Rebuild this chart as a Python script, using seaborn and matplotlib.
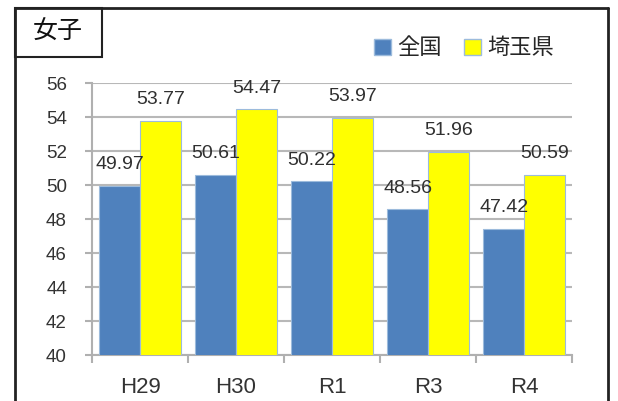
import pandas as pd
import numpy as np
import matplotlib.pyplot as plt
import matplotlib.patches as mpatches
from matplotlib.lines import Line2D
from matplotlib.ticker import FixedLocator
import seaborn as sns

sns.set_theme(style="white")
plt.rcParams['font.family'] = ['Liberation Sans', 'Noto Sans CJK JP']

# data
years = ['H29', 'H30', 'R1', 'R3', 'R4']
zenkoku = [49.97, 50.61, 50.22, 48.56, 47.42]
saitama = [53.77, 54.47, 53.97, 51.96, 50.59]
series = ['全国', '埼玉県']
colors = ['#4f81bd', '#ffff00']

df = pd.DataFrame({
    'year': years * 2,
    'value': zenkoku + saitama,
    'group': [series[0]] * len(years) + [series[1]] * len(years),
})

fig = plt.figure(figsize=(6.18, 4.01), dpi=100)
ax = fig.add_axes([92 / 618, 46 / 401, 480 / 618, 272 / 401])

sns.barplot(data=df, x='year', y='value', hue='group', palette=colors,
            saturation=1, width=0.85, edgecolor='#9cbbdc', linewidth=0.8,
            gap=0, legend=False, ax=ax, zorder=3)

ax.set_ylim(40, 56)
ax.set_xlim(-0.5, len(years) - 0.5)
ax.set_yticks(np.arange(40, 57, 2))
ax.set_xlabel('')
ax.set_ylabel('')
ax.yaxis.grid(True, color='#b8b8b8', linewidth=1.5, zorder=0)
ax.set_axisbelow(True)

for s in ['top', 'right']:
    ax.spines[s].set_visible(False)
for s in ['left', 'bottom']:
    ax.spines[s].set_color('#b0b0b0')
    ax.spines[s].set_linewidth(1.5)

ax.tick_params(axis='y', left=True, length=5, width=1.5, color='#b0b0b0',
               labelsize=13.5, labelcolor='#333333', pad=13)
ax.tick_params(axis='x', which='major', length=0, labelsize=16,
               labelcolor='#333333', pad=16)
ax.xaxis.set_minor_locator(FixedLocator(np.arange(-0.5, len(years), 1)))
ax.tick_params(axis='x', which='minor', bottom=True, length=6, width=1.5,
               color='#b0b0b0')

for cont in ax.containers:
    ax.bar_label(cont, fmt='%.2f', padding=9, fontsize=14, color='#303030')

# legend
handles = [mpatches.Patch(facecolor=c, edgecolor='#9cbbdc', label=l)
           for c, l in zip(colors, series)]
fig.legend(handles=handles, loc='center', bbox_to_anchor=(464 / 618, 1 - 49 / 401),
           ncol=2, frameon=False, fontsize=16, handlelength=0.75,
           handleheight=0.75, handletextpad=0.3, columnspacing=1.0)

# outer frame and title box
x0, x1, y_top = 15 / 618, 608 / 618, 1 - 8 / 401
for xs, ys in [([x0, x0], [0, y_top]), ([x0, x1], [y_top, y_top]),
               ([x1, x1], [y_top, 0])]:
    fig.add_artist(Line2D(xs, ys, color='#222222', linewidth=2))
fig.add_artist(mpatches.Rectangle((x0, 1 - 57 / 401), (102 - 15) / 618, 49 / 401,
                                  fill=False, edgecolor='#222222', linewidth=1.5))
fig.text(58 / 618, 1 - 32 / 401, '女子', ha='center', va='center', fontsize=18,
         color='#111111')

fig.savefig('out.png', dpi=100)
